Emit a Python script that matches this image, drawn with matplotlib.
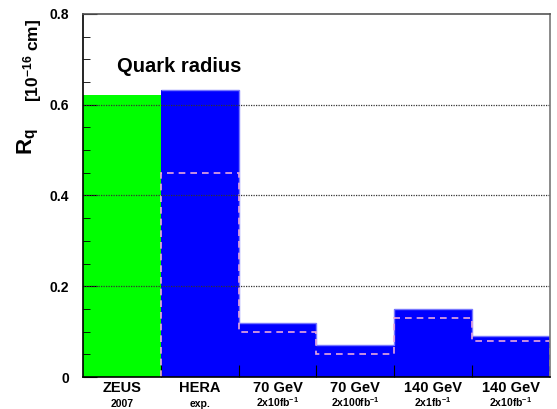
import numpy as np
import matplotlib
matplotlib.use('Agg')
import matplotlib.pyplot as plt
import matplotlib.transforms as mtransforms

plt.rcParams['font.family'] = ['Liberation Sans', 'DejaVu Sans']
plt.rcParams['font.weight'] = 'bold'
plt.rcParams['mathtext.fontset'] = 'custom'
plt.rcParams['mathtext.rm'] = 'Liberation Sans:bold'
plt.rcParams['mathtext.it'] = 'Liberation Sans:bold'
plt.rcParams['mathtext.bf'] = 'Liberation Sans:bold'

labels_top = ['ZEUS', 'HERA', '70 GeV', '70 GeV', '140 GeV', '140 GeV']
labels_bot = ['2007', 'exp.', r'2x10fb$^{-1}$', r'2x100fb$^{-1}$', r'2x1fb$^{-1}$', r'2x10fb$^{-1}$']
zeus = 0.622
limits = [0.632, 0.12, 0.07, 0.15, 0.09]     # HERA + LHeC options
expected = [0.45, 0.10, 0.05, 0.13, 0.08]    # dashed

fig = plt.figure(figsize=(5.57, 4.09), dpi=100)
ax = fig.add_axes([0.149, 0.0782, 0.838, 0.8878])

edges = np.arange(len(labels_top) + 1)
ax.stairs([zeus], edges[:2], fill=True, color='#00ff00', zorder=1)
ax.stairs(limits, edges[1:], fill=True, color='#0000ff', zorder=1)
ax.stairs(limits, edges[1:], baseline=None, color='#7777ff', lw=1, zorder=1.5)
ax.stairs(expected, edges[1:], baseline=0, color='#eaa8dc', lw=1.2,
          linestyle=(0, (4, 3)), zorder=2)

for g in [0.2, 0.4, 0.6]:
    ax.axhline(g, color='#333333', lw=0.9, linestyle=(0, (1, 1)), zorder=3)

ax.set_xlim(0, 6)
ax.set_ylim(0, 0.8)
ax.set_yticks([0, 0.2, 0.4, 0.6, 0.8])
ax.set_yticklabels(['0', '0.2', '0.4', '0.6', '0.8'], fontsize=10, fontweight='bold')
ax.set_yticks(np.arange(0, 0.8, 0.05), minor=True)
ax.set_xticks(edges[1:-1])
ax.set_xticklabels([])
ax.tick_params(axis='y', which='major', direction='in', length=10, pad=10)
ax.tick_params(axis='y', which='minor', direction='in', length=5)
ax.tick_params(axis='x', direction='in', length=9)
for s in ax.spines.values():
    s.set_linewidth(1.2)
    s.set_zorder(4)
ax.spines['right'].set_color('#777777')
ax.spines['top'].set_color('#555555')

trans = mtransforms.blended_transform_factory(ax.transData, ax.transAxes)
for i, (t, b) in enumerate(zip(labels_top, labels_bot)):
    ax.text(i + 0.5, -0.042, t, transform=trans, ha='center', va='baseline',
            fontsize=10.5, fontweight='bold')
    ax.text(i + 0.5, -0.083, b, transform=trans, ha='center', va='baseline',
            fontsize=7.5, fontweight='bold')

ax.text(0.072, 0.856, 'Quark radius', transform=ax.transAxes, fontsize=14.5,
        fontweight='bold', ha='left', va='center')

fig.text(28 / 557, 1 - 142 / 409, r'R$_{\mathbf{q}}$', rotation=90, fontsize=16,
         fontweight='bold', ha='center', va='center')
fig.text(33 / 557, 1 - 60 / 409, r'[10$^{-16}$ cm]', rotation=90, fontsize=12.5,
         fontweight='bold', ha='center', va='center')

fig.savefig('out.png', dpi=100)
